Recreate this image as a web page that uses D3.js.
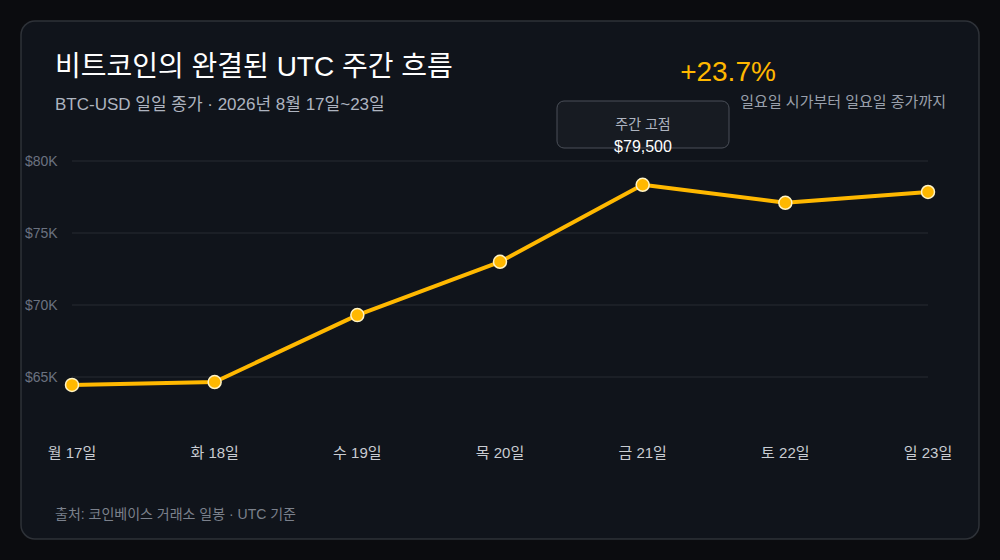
<!DOCTYPE html>
<html><head><meta charset="utf-8">
<script src="https://cdn.jsdelivr.net/npm/d3@7"></script>
<style>body{margin:0;background:#0b0c0f;}svg{display:block;font-family:"Liberation Sans","Noto Sans CJK KR",sans-serif;}</style>
</head><body><div id="chart"></div>
<script>
const days = ["월 17일", "화 18일", "수 19일", "목 20일", "금 21일", "토 22일", "일 23일"];
const closes = [64450, 64650, 69300, 73000, 78350, 77100, 77850];
const yTicks = [65000, 70000, 75000, 80000];

const width = 1000, height = 560;
const svg = d3.select("#chart").append("svg").attr("width", width).attr("height", height);

svg.append("rect").attr("x", 21).attr("y", 21).attr("width", 958).attr("height", 518)
    .attr("rx", 14).attr("fill", "#10141b").attr("stroke", "#2e3238").attr("stroke-width", 1.5);

const x = d3.scalePoint().domain(days).range([72, 928]);
const y = d3.scaleLinear().domain([65000, 80000]).range([377, 161]);

// grid + y labels
svg.append("g").selectAll("line").data(yTicks).enter().append("line")
    .attr("x1", 72).attr("x2", 928).attr("y1", d => y(d)).attr("y2", d => y(d))
    .attr("stroke", "#262a32").attr("stroke-width", 1);
svg.append("g").selectAll("text").data(yTicks).enter().append("text")
    .attr("x", 25).attr("y", d => y(d) + 5).attr("fill", "#6b7280").attr("font-size", 14)
    .text(d => "$" + d / 1000 + "K");

// x labels
svg.append("g").selectAll("text").data(days).enter().append("text")
    .attr("x", d => x(d)).attr("y", 458).attr("text-anchor", "middle")
    .attr("fill", "#c9ccd2").attr("font-size", 15).text(d => d);

const line = d3.line().x((d, i) => x(days[i])).y(d => y(d));
svg.append("path").datum(closes).attr("d", line).attr("fill", "none")
    .attr("stroke", "#ffb800").attr("stroke-width", 4).attr("stroke-linejoin", "round");
svg.append("g").selectAll("circle").data(closes).enter().append("circle")
    .attr("cx", (d, i) => x(days[i])).attr("cy", d => y(d)).attr("r", 6.5)
    .attr("fill", "#ffb800").attr("stroke", "#fff3c4").attr("stroke-width", 1.5);

// titles
svg.append("text").attr("x", 55).attr("y", 76).attr("fill", "#ffffff").attr("font-size", 28)
    .text("비트코인의 완결된 UTC 주간 흐름");
svg.append("text").attr("x", 55).attr("y", 110).attr("fill", "#aeb4c0").attr("font-size", 17)
    .text("BTC-USD 일일 종가 · 2026년 8월 17일~23일");
svg.append("text").attr("x", 728).attr("y", 81).attr("text-anchor", "middle").attr("fill", "#ffb800")
    .attr("font-size", 28).text("+23.7%");
svg.append("text").attr("x", 946).attr("y", 107).attr("text-anchor", "end").attr("fill", "#9aa0ab")
    .attr("font-size", 15).text("일요일 시가부터 일요일 종가까지");

// tooltip box
svg.append("rect").attr("x", 557).attr("y", 101).attr("width", 172).attr("height", 47).attr("rx", 7)
    .attr("fill", "#171b22").attr("stroke", "#4a4f58").attr("stroke-width", 1);
svg.append("text").attr("x", 643).attr("y", 129).attr("text-anchor", "middle").attr("fill", "#aeb4c0")
    .attr("font-size", 14).text("주간 고점");
svg.append("text").attr("x", 643).attr("y", 152).attr("text-anchor", "middle").attr("fill", "#ffffff")
    .attr("font-size", 16).text("$79,500");

svg.append("text").attr("x", 55).attr("y", 519).attr("fill", "#7b818c").attr("font-size", 14)
    .text("출처: 코인베이스 거래소 일봉 · UTC 기준");
</script></body></html>
